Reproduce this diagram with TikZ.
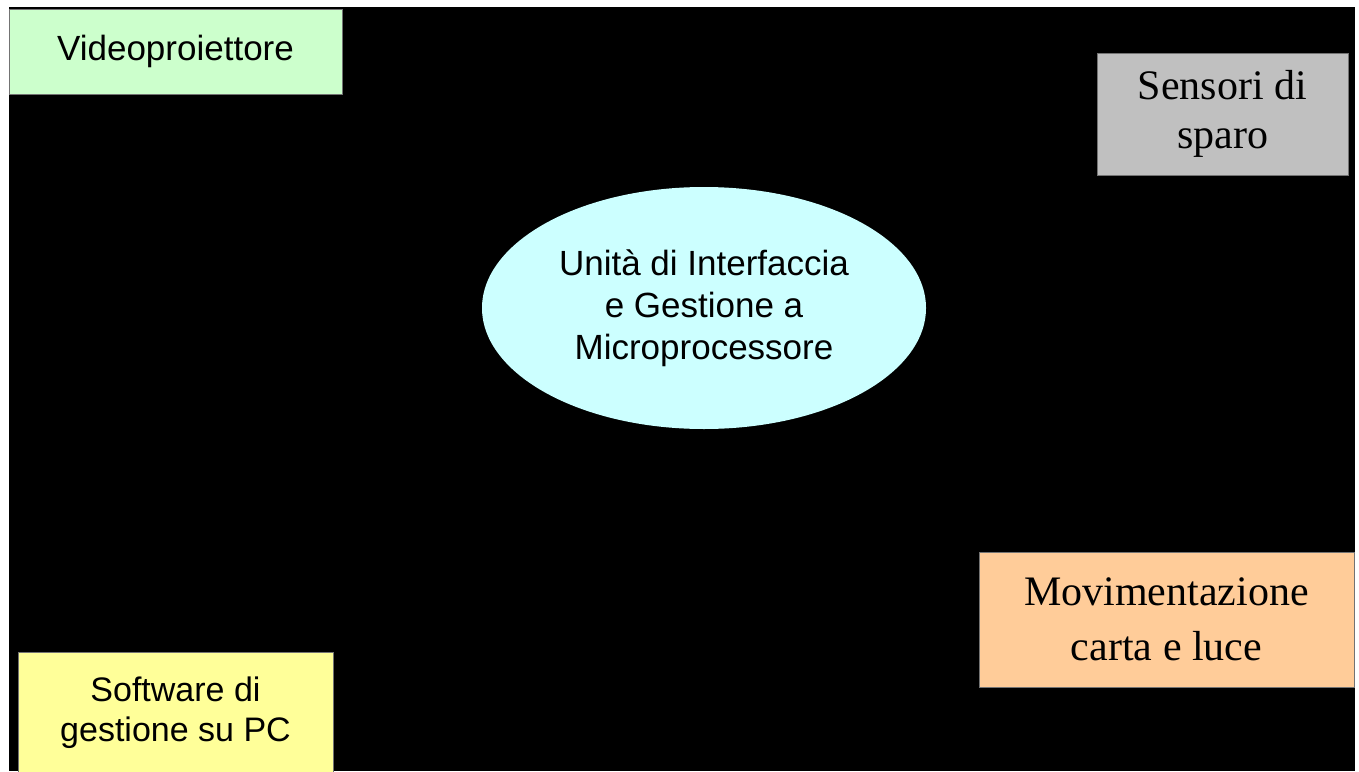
\documentclass[tikz,border=0pt]{standalone}
\usepackage{fontspec}
\setmainfont{Liberation Serif}
\setsansfont{Liberation Sans}
\usepackage{tikz}
\usetikzlibrary{shapes.geometric}
\definecolor{verdino}{HTML}{CCFFCC}
\definecolor{grigio}{HTML}{C0C0C0}
\definecolor{pesca}{HTML}{FFCC99}
\definecolor{giallino}{HTML}{FFFF99}
\definecolor{azzurrino}{HTML}{CCFFFF}
\begin{document}
\begin{tikzpicture}[x=1pt,y=-1pt,
	box/.style={draw=black!55, line width=1pt, inner sep=0pt, align=center},
	sans/.style={font=\sffamily\fontsize{35}{42}\selectfont},
	serif/.style={font=\rmfamily\fontsize{42}{50}\selectfont}]
		\useasboundingbox (0,0) rectangle (1359,771);
		\fill[white] (0,0) rectangle (1359,771);
		\fill[black] (9,7) rectangle (1355,771);
		\node[box, sans, fill=verdino, minimum width=333, minimum height=85] (video) at (175.5,51.5) {Videoproiettore};
		\node[box, fill=grigio, minimum width=251, minimum height=122, font=\rmfamily\fontsize{42}{49}\selectfont] (sensori) at (1222.5,114) {Sensori di\\sparo};
		\node[ellipse, fill=azzurrino, inner sep=0pt, minimum width=444, minimum height=242, sans, align=center] (unita) at (704,308) {Unità di Interfaccia\\e Gestione a\\Microprocessore};
		\node[box, fill=pesca, minimum width=375, minimum height=135, font=\rmfamily\fontsize{42}{55}\selectfont] (movimento) at (1166.5,619.5) {Movimentazione\\carta e luce};
		\node[box, fill=giallino, minimum width=315, minimum height=122, font=\sffamily\fontsize{34}{40}\selectfont] (software) at (175.5,713) {Software di\\gestione su PC};
	\end{tikzpicture}
\end{document}
